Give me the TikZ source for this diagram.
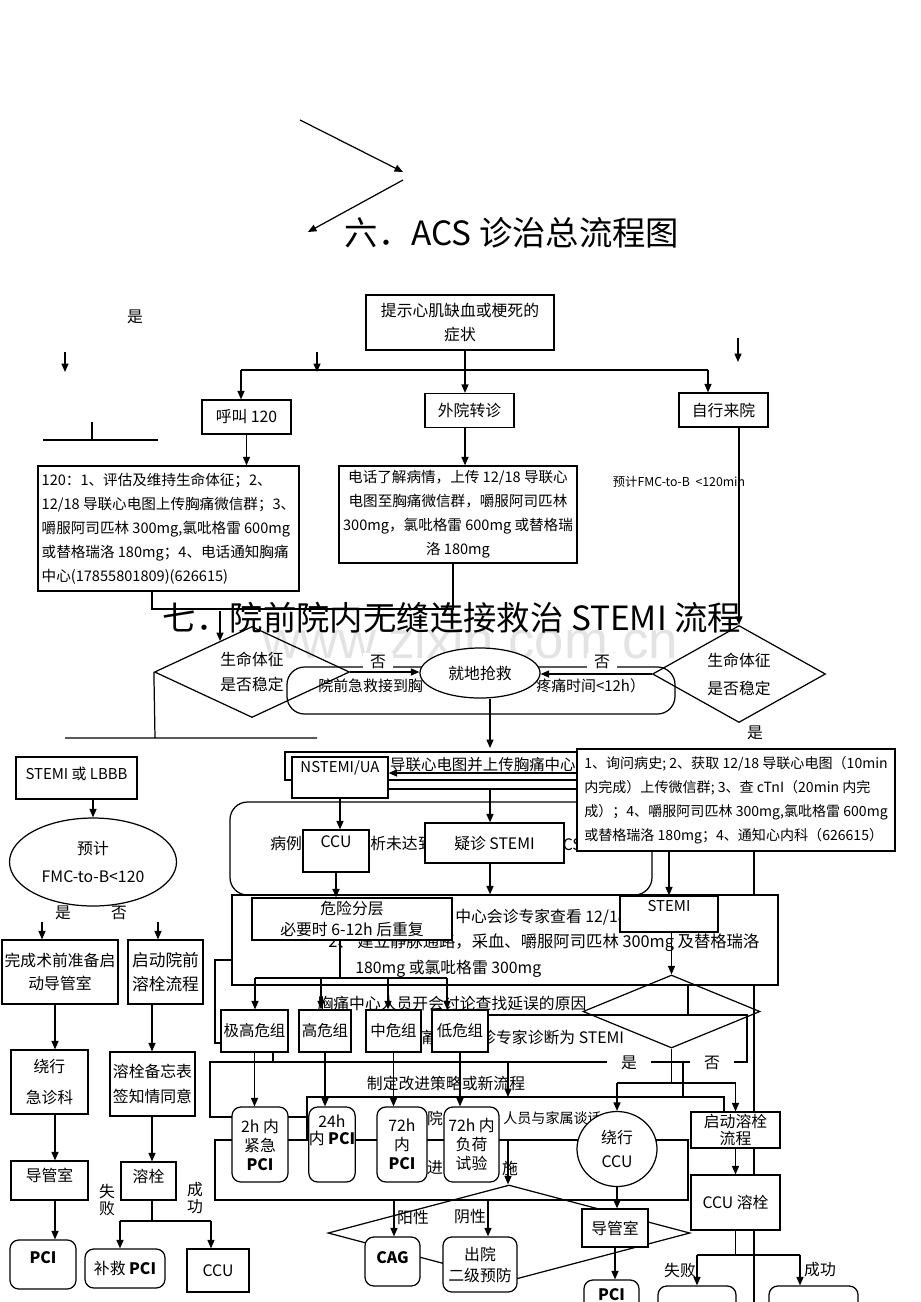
\documentclass[tikz,border=0pt]{standalone}
\usepackage{fontspec}
\setmainfont{Noto Sans CJK SC}
\newfontfamily\wmfont{Liberation Sans}
\usetikzlibrary{arrows.meta,shapes.geometric,backgrounds}
\newcommand\bodysize{\fontsize{8pt}{13.6pt}\selectfont}
\newcommand\widesize{\fontsize{8.3pt}{13.6pt}\selectfont}
\newcommand\midsize{\fontsize{9pt}{14pt}\selectfont}
\newcommand\timesize{\fontsize{9pt}{10.8pt}\selectfont}
\newcommand\bigsize{\fontsize{19pt}{22pt}\selectfont}

\begin{document}
\begin{tikzpicture}
[x=0.02cm,y=-0.02cm,
  boxdecorate/.style={shape=rectangle,draw,fill=white,line width=0.7pt,inner sep=0pt,align=center,font=\midsize},
  rounddecorate/.style={boxdecorate,rounded corners=5pt},
  framedecorate/.style={boxdecorate,rounded corners=10pt},
  diadecorate/.style={shape=diamond,draw,line width=0.7pt,aspect=2,inner sep=0pt,align=center,font=\midsize},
  ovaldecorate/.style={shape=ellipse,draw,fill=white,line width=0.7pt,inner sep=0pt,align=center,font=\midsize},
  textdecorate/.style={inner sep=0pt,align=center,font=\midsize},
  notedecorate/.style={inner xsep=4pt,inner ysep=1pt,fill=white,font=\midsize},
  sz/.style 2 args={minimum width=#1*0.02cm,minimum height=#2*0.02cm},
  raisetext/.style={text depth=#1},
  linedecorate/.style={-,line width=0.7pt},
  arrowdecorate/.style={-{Triangle[length=4.8pt,width=4pt]},line width=0.7pt}]
\useasboundingbox (0,0) rectangle (920,1302);
\clip (0,0) rectangle (920,1302);

%% watermark and frames behind the boxes
\begin{pgfonlayer}{background}
\node (wmark) at (262,658) [anchor=base west,inner sep=0pt,text=gray!22,font=\wmfont\fontsize{30pt}{30pt}\selectfont] {www.zixin.com.cn};
\draw[linedecorate] (43,440) -- (158,440) (92,422) -- (92,440);
\draw[linedecorate] (232,960) -- (215,960) -- (215,1043) -- (221,1043);
\draw[linedecorate] (307,1117) -- (210,1117) -- (210,1062) -- (747,1062) -- (747,1015) -- (488,1015);
\draw[linedecorate] (273,1052) -- (273,1062);
\draw[linedecorate] (307,1140) -- (307,1097) -- (724,1097) -- (724,1112);
\draw[linedecorate] (215,1140) rectangle (688,1200);
\draw[linedecorate] (688,985) -- (688,1015);
\draw[linedecorate] (683,1062) -- (683,1097);
\draw[linedecorate] (754,851) -- (754,1302);
\end{pgfonlayer}

%% title and first contact
\node (title6) at (512,233) [textdecorate,font=\bigsize] {六．ACS 诊治总流程图};
\coordinate (s1) at (300,120); \coordinate (e1) at (403,172);
\coordinate (s2) at (403,180); \coordinate (e2) at (308,232);
\draw[arrowdecorate] (s1) -- (e1);
\draw[arrowdecorate] (s2) -- (e2);

\node (sym) at (460,322.5) [boxdecorate,sz={188}{55}] {提示心肌缺血或梗死的\\症状};
\foreach \nodename/\x/\y/\txt in {call/246.5/417/呼叫 120, trans/469.5/410.5/外院转诊, self/723.5/410/自行来院} {
  \node (\nodename) at (\x,\y) [boxdecorate,sz={89}{34}] {\txt};
}
\node (info120) at (168.5,528.5) [boxdecorate,sz={261}{125},align=left,font=\widesize] {120：1、评估及维持生命体征；2、\\12/18 导联心电图上传胸痛微信群；3、\\嚼服阿司匹林 300mg,氯吡格雷 600mg\\或替格瑞洛 180mg；4、电话通知胸痛\\中心(17855801809)(626615)};
\node (tphone) at (458,514.5) [boxdecorate,sz={238}{97},font=\widesize] {电话了解病情，上传 12/18 导联心\\电图至胸痛微信群，嚼服阿司匹林\\300mg，氯吡格雷 600mg 或替格瑞\\洛 180mg};
\node (yes0) at (135,317) [textdecorate] {是};
\node (est) at (679,482) [textdecorate,font=\fontsize{7pt}{8pt}\selectfont] {预计FMC-to-B\ \ <120min};

\foreach \name/\x/\ya/\yb in {p1/65/352/372, p2/317/352/372, p3/738/338/362} {
  \coordinate (\name-a) at (\x,\ya);
  \coordinate (\name-b) at (\x,\yb);
  \draw[arrowdecorate] (\name-a) -- (\name-b);
}

%% pre-hospital part
\node (title7) at (452,618) [textdecorate,font=\bigsize] {七．院前院内无缝连接救治 STEMI 流程};
\node (pre) at (481,690.5) [framedecorate,sz={388}{47}] {};
\node (pretxt1) at (318,686) [textdecorate,anchor=west,font=\fontsize{8.5pt}{10pt}\selectfont] {院前急救接到胸};
\node (pretxt2) at (536,686) [textdecorate,anchor=west,font=\fontsize{8.5pt}{10pt}\selectfont] {疼痛时间<12h）};
\node (rescue) at (480,673) [ovaldecorate,sz={120}{50}] {就地抢救};
\node (diamL) at (252,672) [diadecorate,sz={195}{91}] {生命体征\\是否稳定};
\node (diamR) at (739,674) [diadecorate,sz={173}{97}] {生命体征\\[2pt]是否稳定};
\node (noL) at (378,662) [notedecorate] {否};
\node (noR) at (602,662) [notedecorate] {否};
\node (yesR) at (755,733) [textdecorate] {是};

%% ECG and triage
\draw[linedecorate] (285,752) rectangle (577,780);
\node (ecgtxt) at (576,765) [textdecorate,anchor=east,font=\fontsize{8.8pt}{10pt}\selectfont] {导联心电图并上传胸痛中心};
\node (nstemi) at (340,777.5) [boxdecorate,sz={96}{41},raisetext=12pt,font=\fontsize{8.5pt}{10pt}\selectfont] {NSTEMI/UA};
\node (stemiL) at (76.5,778) [boxdecorate,sz={121}{42},raisetext=5pt,font=\fontsize{8.5pt}{10pt}\selectfont] {STEMI 或 LBBB};

\node (casebox) at (441,848.5) [framedecorate,sz={422}{93}] {};
\node (consult) at (505,940) [boxdecorate,sz={546}{90}] {};
\node (casetxt1) at (270,843) [textdecorate,anchor=west] {病例};
\node (casetxt2) at (370,843) [textdecorate,anchor=west] {析未达到};
\node (casetxt3) at (553,845) [textdecorate,anchor=west] {ACS};
\node (ccu2) at (336,851) [boxdecorate,sz={66}{42},raisetext=11pt] {CCU};
\node (suspect) at (494.5,843) [boxdecorate,sz={139}{40}] {疑诊 STEMI};
\node (contxt1) at (455,917) [textdecorate,anchor=west] {中心会诊专家查看 12/18};
\node (contxt2) at (328,943) [textdecorate,anchor=west,font=\fontsize{9.3pt}{10pt}\selectfont] {2、 建立静脉通路，采血、嚼服阿司匹林 300mg 及替格瑞洛};
\node (contxt3) at (355,969) [textdecorate,anchor=west] {180mg 或氯吡格雷 300mg};
\node (risk) at (352,919) [boxdecorate,sz={200}{42}] {危险分层\\[-2pt]必要时 6-12h 后重复};
\node (infoR) at (736,800) [boxdecorate,sz={318}{102},align=left,font=\bodysize] {1、询问病史; 2、获取 12/18 导联心电图（10min\\内完成）上传微信群; 3、查 cTnI（20min 内完\\成）；4、嚼服阿司匹林 300mg,氯吡格雷 600mg\\或替格瑞洛 180mg；4、通知心内科（626615）};
\node (stemi2) at (669,914) [boxdecorate,sz={98}{36},raisetext=9pt,font=\fontsize{8.5pt}{10pt}\selectfont] {STEMI};
\node (dmid) at (671.5,1011.5) [diadecorate,sz={177}{73}] {};

%% risk groups and time windows
\node (notetxt1) at (452,1003) [textdecorate] {胸痛中心人员开会讨论查找延误的原因};
\node (notetxt2) at (426,1037) [textdecorate] {痛};
\node (notetxt3) at (480,1037) [textdecorate,anchor=west] {诊专家诊断为 STEMI};
\foreach \nodename/\x/\w/\txt in {vhigh/254.5/67/极高危组, high/325/52/高危组, mid/393.5/55/中危组, low/460/56/低危组} {
  \node (\nodename) at (\x,1031) [boxdecorate,sz={\w}{42},font=\fontsize{8.8pt}{10pt}\selectfont] {\txt};
}
\node (notetxt4) at (446,1083) [textdecorate] {制定改进策略或新流程};
\node (notetxt5) at (435,1118) [textdecorate] {院};
\node (notetxt6) at (503,1118) [textdecorate,anchor=west,font=\bodysize] {人员与家属谈话};
\node (notetxt7) at (435,1168) [textdecorate] {进};
\node (notetxt8) at (510,1168) [textdecorate] {施};
\node (dlow) at (509,1233) [diadecorate,sz={362}{96}] {};
\foreach \nodename/\x/\w/\txt in {t2/260/56/{2h 内\\紧急\\\textbf{PCI}}, t24/332/44/{24h\\[-1pt]内 \textbf{PCI}\\[6pt]\mbox{}}, t72/402/50/{72h\\内\\\textbf{PCI}}, tload/471.5/55/{72h 内\\负荷\\试验}} {
  \node (\nodename) at (\x,1144.5) [rounddecorate,sz={\w}{75},font=\timesize] {\txt};
}
\node (ccu3) at (617,1149) [ovaldecorate,sz={80}{75}] {绕行\\CCU};
\node (lysis2) at (735.5,1130) [boxdecorate,sz={89}{36}] {启动溶栓\\[-4pt]流程};
\node (ccuLysis) at (735.5,1202.5) [boxdecorate,sz={89}{55}] {CCU 溶栓};
\node (cath2) at (615,1228) [boxdecorate,sz={66}{38}] {导管室};
\node (pci3) at (611.5,1300) [rounddecorate,sz={55}{40},raisetext=6pt] {\textbf{PCI}};
\node (cag) at (392.5,1261.5) [rounddecorate,sz={55}{49},raisetext=5pt] {\textbf{CAG}};
\node (disch) at (480,1264.5) [rounddecorate,sz={74}{55}] {出院\\[-2pt]二级预防};
\node (failb) at (697,1308) [rounddecorate,sz={78}{44}] {};
\node (succb) at (813.5,1308) [rounddecorate,sz={89}{44}] {};
\node (posi) at (413,1217) [textdecorate] {阳性};
\node (nega) at (470,1217) [textdecorate] {阴性};
\node (fail2) at (680,1270) [textdecorate] {失败};
\node (succ2) at (820,1270) [textdecorate] {成功};
\node (yes2) at (629,1063) [notedecorate,inner xsep=8pt] {是};
\node (no2) at (712,1063) [notedecorate,inner xsep=8pt] {否};

%% left column
\node (pred) at (93,862) [ovaldecorate,sz={167}{88}] {预计\\[2pt]FMC-to-B<120};
\node (yes1) at (63,913) [textdecorate] {是};
\node (no1) at (119,913) [textdecorate] {否};
\node (prep) at (60,972) [boxdecorate,sz={116}{64}] {完成术前准备启\\[-1pt]动导管室};
\node (thromb1) at (165.5,972) [boxdecorate,sz={75}{64},font=\fontsize{9.5pt}{14pt}\selectfont] {启动院前\\溶栓流程};
\node (er) at (49.5,1082) [boxdecorate,sz={77}{64}] {绕行\\[4pt]急诊科};
\node (memo) at (152.5,1084) [boxdecorate,sz={85}{64}] {溶栓备忘表\\签知情同意};
\node (cath1) at (49.5,1180.5) [boxdecorate,sz={77}{39},raisetext=7pt] {导管室};
\node (lysis) at (148.5,1181) [boxdecorate,sz={55}{38},raisetext=6pt] {溶栓};
\node (pci1) at (43,1264.5) [rounddecorate,sz={66}{49},raisetext=8pt] {\textbf{PCI}};
\node (rescuepci) at (125,1268.5) [rounddecorate,sz={80}{39}] {补救 \textbf{PCI}};
\node (ccu1) at (218,1270.5) [boxdecorate,sz={62}{43}] {CCU};
\node (fail1) at (107,1200) [textdecorate,font=\fontsize{9pt}{9.7pt}\selectfont] {失\\败};
\node (succ1) at (195,1198) [textdecorate,font=\fontsize{9pt}{9.7pt}\selectfont] {成\\功};

%% connectors, upper part
\coordinate (j1) at (465,370); \coordinate (j2) at (241,370); \coordinate (j3) at (708,370);
\draw[arrowdecorate] (sym.south -| j1) -- (trans.north -| j1);
\draw[linedecorate] (j2) -- (j3);
\draw[arrowdecorate] (j2) -- (j2 |- call.north);
\draw[arrowdecorate] (j3) -- (j3 |- self.north);
\draw[arrowdecorate] (call.south) -- (call.south |- info120.north);
\draw[arrowdecorate] (trans.south -| j1) -- (tphone.north -| j1);
\coordinate (j4) at (152,609); \coordinate (j5) at (453,609);
\draw[linedecorate] (info120.south -| j4) -- (j4) -- (j5) -- (tphone.south -| j5);
\draw[arrowdecorate] (self.south -| diamR.north) -- (diamR.north);
\coordinate (a1) at (220,611); \coordinate (a2) at (220,641);
\draw[arrowdecorate] (a1) -- (a2);
\draw[arrowdecorate] (diamL.east) -- (diamL.east -| rescue.west);
\draw[arrowdecorate] (diamR.west) -- (diamR.west -| rescue.east);
\coordinate (j6) at (490,748);
\draw[arrowdecorate] (rescue.south -| j6) -- (j6);
\coordinate (j17) at (155,738); \coordinate (j18) at (65,738); \coordinate (j19) at (317,738);
\draw[linedecorate] (diamL.west) -- (j17) (j18) -- (j19);
\coordinate (j7) at (577,773); \coordinate (j8) at (490,789); \coordinate (j20) at (577,789);
\draw[arrowdecorate] (j7) -- (j7 -| nstemi.east);
\draw[linedecorate] (j8 -| nstemi.east) -- (j20);

%% connectors, middle part
\draw[arrowdecorate] (nstemi.south) -- (nstemi.south |- ccu2.north);
\draw[arrowdecorate] (j8) -- (j8 |- suspect.north);
\draw[arrowdecorate] (suspect.south -| j8) -- (consult.north -| j8);
\draw[arrowdecorate] (ccu2.south) -- (ccu2.south |- risk.north);
\coordinate (j13) at (340,978); \coordinate (j24) at (255,978); \coordinate (j25) at (447,978);
\draw[linedecorate] (risk.south -| j13) -- (j13) (j24) -- (j25);
\foreach \x/\endnode in {255/vhigh, 321/high, 388/mid, 447/low} {
  \coordinate (k) at (\x,978);
  \draw[arrowdecorate] (k) -- (k |- \endnode.north);
}
\path
\foreach \startnode/\endnode in {vhigh/t2, high/t24, mid/t72, low/tload} {
  (\startnode.south) edge[arrowdecorate] (\startnode.south |- \endnode.north)
};
\draw[arrowdecorate] (infoR.south -| stemi2.north) -- (stemi2.north);
\draw[arrowdecorate] (stemi2.south -| dmid.north) -- (dmid.north);
\coordinate (j14) at (671.5,1083); \coordinate (j26) at (617,1083); \coordinate (j27) at (735.5,1083);
\draw[linedecorate] (dmid.south) -- (j14) (j26) -- (j27);
\draw[arrowdecorate] (j26) -- (ccu3.north);
\draw[arrowdecorate] (j27) -- (lysis2.north);
\draw[arrowdecorate] (lysis2.south) -- (ccuLysis.north);
\coordinate (j28) at (735.5,1255); \coordinate (j29) at (697,1255); \coordinate (j30) at (800,1255);
\draw[linedecorate] (ccuLysis.south) -- (j28) (j29) -- (j30);
\draw[arrowdecorate] (j29) -- (failb.north);
\draw[arrowdecorate] (j30) -- (j30 |- succb.north);
\draw[arrowdecorate] (ccu3.south) -- (ccu3.south |- cath2.north);
\draw[arrowdecorate] (cath2.south) -- (cath2.south |- pci3.north);
\coordinate (j15) at (394,1200); \coordinate (j16) at (488,1200);
\draw[arrowdecorate] (j15) -- (j15 |- cag.north);
\draw[arrowdecorate] (j16) -- (j16 |- disch.north);
\coordinate (j31) at (508,1062); \coordinate (j32) at (508,1097); \coordinate (j33) at (508,1140);
\draw[arrowdecorate] (j31) -- (j32);
\draw[arrowdecorate] (j33) -- (j33 |- dlow.north);

%% connectors, left column
\coordinate (j9) at (42,922); \coordinate (j10) at (158,922);
\draw[arrowdecorate] (stemiL.south -| pred.north) -- (pred.north);
\draw[arrowdecorate] (j9) -- (j9 |- prep.north);
\draw[arrowdecorate] (j10) -- (j10 |- thromb1.north);
\coordinate (j11) at (55,0); \coordinate (j12) at (152,0);
\path
\foreach \startnode/\endnode/\c in {prep/er/j11, er/cath1/j11, cath1/pci1/j11, thromb1/memo/j12, memo/lysis/j12} {
  (\startnode.south -| \c) edge[arrowdecorate] (\endnode.north -| \c)
};
\coordinate (j21) at (152,1221); \coordinate (j22) at (120,1221); \coordinate (j23) at (211,1221);
\draw[linedecorate] (lysis.south -| j21) -- (j21) (j22) -- (j23);
\draw[arrowdecorate] (j22) -- (j22 |- rescuepci.north);
\draw[arrowdecorate] (j23) -- (j23 |- ccu1.north);
\end{tikzpicture}
\end{document}
